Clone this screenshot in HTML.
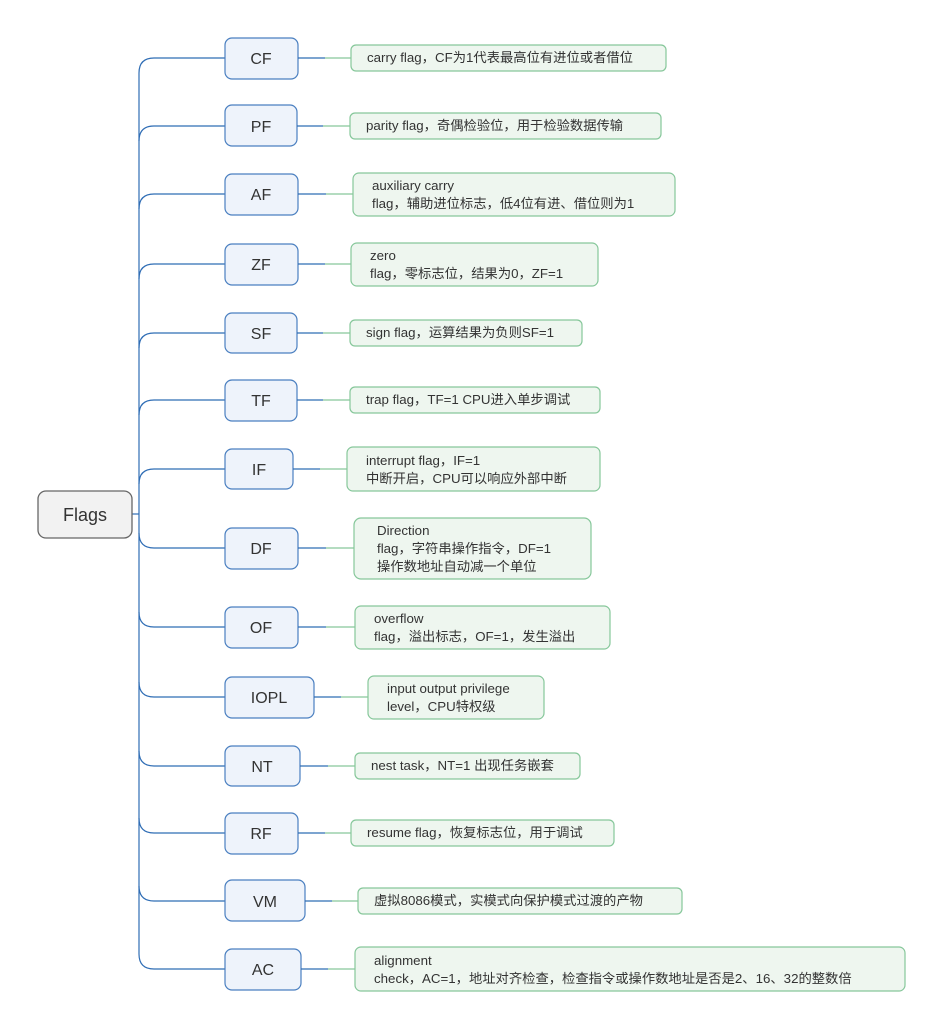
<!DOCTYPE html>
<html><head><meta charset="utf-8"><style>
html,body{margin:0;padding:0;background:#fff;width:943px;height:1029px;overflow:hidden}
svg text{font-family:"Liberation Sans","Noto Sans CJK SC",sans-serif;fill:#333}
.n{font-size:16px;text-anchor:middle}
.t{font-size:13.3px}
.nb{fill:#eef3fb;stroke:#4a7fc0;stroke-width:1.2}
.tb{fill:#eef6ef;stroke:#86c79a;stroke-width:1.2}
.bl{stroke:#2f6db5;stroke-width:1.2;fill:none}
.gl{stroke:#86c79a;stroke-width:1.2;fill:none}
</style></head><body>
<svg width="943" height="1029" xmlns="http://www.w3.org/2000/svg">
<line x1="139" y1="73" x2="139" y2="954" class="bl"/>
<line x1="132" y1="514" x2="139" y2="514" class="bl"/>
<rect x="38" y="491" width="94" height="47" rx="8" fill="#f2f2f2" stroke="#666" stroke-width="1.3"/>
<text x="85" y="521" class="n" style="font-size:18px">Flags</text>

<g>
<path d="M139,73 Q139,58 154,58 L225,58" class="bl"/>
<rect x="225" y="38" width="73" height="41" rx="7" class="nb"/><text x="261" y="64" class="n">CF</text>
<line x1="298" y1="58" x2="325" y2="58" class="bl"/><line x1="325" y1="58" x2="351" y2="58" class="gl"/>
<rect x="351" y="45" width="315" height="26" rx="5" class="tb"/><text x="367" y="62" class="t">carry flag，CF为1代表最高位有进位或者借位</text>
</g>
<g>
<path d="M139,141 Q139,126 154,126 L225,126" class="bl"/>
<rect x="225" y="105" width="72" height="41" rx="7" class="nb"/><text x="261" y="132" class="n">PF</text>
<line x1="297" y1="126" x2="323" y2="126" class="bl"/><line x1="323" y1="126" x2="350" y2="126" class="gl"/>
<rect x="350" y="113" width="311" height="26" rx="5" class="tb"/><text x="366" y="130" class="t">parity flag，奇偶检验位，用于检验数据传输</text>
</g>
<g>
<path d="M139,209 Q139,194 154,194 L225,194" class="bl"/>
<rect x="225" y="174" width="73" height="41" rx="7" class="nb"/><text x="261" y="200" class="n">AF</text>
<line x1="298" y1="194" x2="326" y2="194" class="bl"/><line x1="326" y1="194" x2="353" y2="194" class="gl"/>
<rect x="353" y="173" width="322" height="43" rx="6" class="tb"/><text x="372" y="190" class="t">auxiliary carry</text><text x="372" y="208" class="t">flag，辅助进位标志，低4位有进、借位则为1</text>
</g>
<g>
<path d="M139,279 Q139,264 154,264 L225,264" class="bl"/>
<rect x="225" y="244" width="73" height="41" rx="7" class="nb"/><text x="261" y="270" class="n">ZF</text>
<line x1="298" y1="264" x2="325" y2="264" class="bl"/><line x1="325" y1="264" x2="351" y2="264" class="gl"/>
<rect x="351" y="243" width="247" height="43" rx="6" class="tb"/><text x="370" y="260" class="t">zero</text><text x="370" y="278" class="t">flag，零标志位，结果为0，ZF=1</text>
</g>
<g>
<path d="M139,348 Q139,333 154,333 L225,333" class="bl"/>
<rect x="225" y="313" width="72" height="40" rx="7" class="nb"/><text x="261" y="339" class="n">SF</text>
<line x1="297" y1="333" x2="323" y2="333" class="bl"/><line x1="323" y1="333" x2="350" y2="333" class="gl"/>
<rect x="350" y="320" width="232" height="26" rx="5" class="tb"/><text x="366" y="337" class="t">sign flag，运算结果为负则SF=1</text>
</g>
<g>
<path d="M139,415 Q139,400 154,400 L225,400" class="bl"/>
<rect x="225" y="380" width="72" height="41" rx="7" class="nb"/><text x="261" y="406" class="n">TF</text>
<line x1="297" y1="400" x2="323" y2="400" class="bl"/><line x1="323" y1="400" x2="350" y2="400" class="gl"/>
<rect x="350" y="387" width="250" height="26" rx="5" class="tb"/><text x="366" y="404" class="t">trap flag，TF=1 CPU进入单步调试</text>
</g>
<g>
<path d="M139,484 Q139,469 154,469 L225,469" class="bl"/>
<rect x="225" y="449" width="68" height="40" rx="7" class="nb"/><text x="259" y="475" class="n">IF</text>
<line x1="293" y1="469" x2="320" y2="469" class="bl"/><line x1="320" y1="469" x2="347" y2="469" class="gl"/>
<rect x="347" y="447" width="253" height="44" rx="6" class="tb"/><text x="366" y="465" class="t">interrupt flag，IF=1</text><text x="366" y="483" class="t">中断开启，CPU可以响应外部中断</text>
</g>
<g>
<path d="M139,533 Q139,548 154,548 L225,548" class="bl"/>
<rect x="225" y="528" width="73" height="41" rx="7" class="nb"/><text x="261" y="554" class="n">DF</text>
<line x1="298" y1="548" x2="326" y2="548" class="bl"/><line x1="326" y1="548" x2="354" y2="548" class="gl"/>
<rect x="354" y="518" width="237" height="61" rx="7" class="tb"/><text x="377" y="535" class="t">Direction</text><text x="377" y="553" class="t">flag，字符串操作指令，DF=1</text><text x="377" y="571" class="t">操作数地址自动减一个单位</text>
</g>
<g>
<path d="M139,612 Q139,627 154,627 L225,627" class="bl"/>
<rect x="225" y="607" width="73" height="41" rx="7" class="nb"/><text x="261" y="633" class="n">OF</text>
<line x1="298" y1="627" x2="326" y2="627" class="bl"/><line x1="326" y1="627" x2="355" y2="627" class="gl"/>
<rect x="355" y="606" width="255" height="43" rx="6" class="tb"/><text x="374" y="623" class="t">overflow</text><text x="374" y="641" class="t">flag，溢出标志，OF=1，发生溢出</text>
</g>
<g>
<path d="M139,682 Q139,697 154,697 L225,697" class="bl"/>
<rect x="225" y="677" width="89" height="41" rx="7" class="nb"/><text x="269" y="703" class="n">IOPL</text>
<line x1="314" y1="697" x2="341" y2="697" class="bl"/><line x1="341" y1="697" x2="368" y2="697" class="gl"/>
<rect x="368" y="676" width="176" height="43" rx="6" class="tb"/><text x="387" y="693" class="t">input output privilege</text><text x="387" y="711" class="t">level，CPU特权级</text>
</g>
<g>
<path d="M139,751 Q139,766 154,766 L225,766" class="bl"/>
<rect x="225" y="746" width="75" height="40" rx="7" class="nb"/><text x="262" y="772" class="n">NT</text>
<line x1="300" y1="766" x2="328" y2="766" class="bl"/><line x1="328" y1="766" x2="355" y2="766" class="gl"/>
<rect x="355" y="753" width="225" height="26" rx="5" class="tb"/><text x="371" y="770" class="t">nest task，NT=1 出现任务嵌套</text>
</g>
<g>
<path d="M139,818 Q139,833 154,833 L225,833" class="bl"/>
<rect x="225" y="813" width="73" height="41" rx="7" class="nb"/><text x="261" y="839" class="n">RF</text>
<line x1="298" y1="833" x2="325" y2="833" class="bl"/><line x1="325" y1="833" x2="351" y2="833" class="gl"/>
<rect x="351" y="820" width="263" height="26" rx="5" class="tb"/><text x="367" y="837" class="t">resume flag，恢复标志位，用于调试</text>
</g>
<g>
<path d="M139,886 Q139,901 154,901 L225,901" class="bl"/>
<rect x="225" y="880" width="80" height="41" rx="7" class="nb"/><text x="265" y="907" class="n">VM</text>
<line x1="305" y1="901" x2="332" y2="901" class="bl"/><line x1="332" y1="901" x2="358" y2="901" class="gl"/>
<rect x="358" y="888" width="324" height="26" rx="5" class="tb"/><text x="374" y="905" class="t">虚拟8086模式，实模式向保护模式过渡的产物</text>
</g>
<g>
<path d="M139,954 Q139,969 154,969 L225,969" class="bl"/>
<rect x="225" y="949" width="76" height="41" rx="7" class="nb"/><text x="263" y="975" class="n">AC</text>
<line x1="301" y1="969" x2="328" y2="969" class="bl"/><line x1="328" y1="969" x2="355" y2="969" class="gl"/>
<rect x="355" y="947" width="550" height="44" rx="6" class="tb"/><text x="374" y="965" class="t">alignment</text><text x="374" y="983" class="t">check，AC=1，地址对齐检查，检查指令或操作数地址是否是2、16、32的整数倍</text>
</g>
</svg>
</body></html>
